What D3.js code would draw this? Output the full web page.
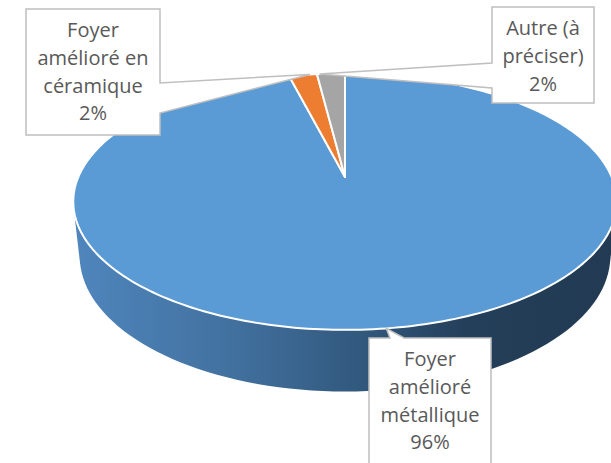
<!DOCTYPE html>
<html>
<head>
<meta charset="utf-8">
<script src="https://cdn.jsdelivr.net/npm/d3@7"></script>
<style>
  body { margin: 0; background: #fff; }
  svg { display: block; }
</style>
</head>
<body>
<svg id="chart"></svg>
<script>
// Data
const labelLines = [
  ["Foyer", "amélioré", "métallique"],
  ["Foyer", "amélioré en", "céramique"],
  ["Autre (à", "préciser)"]
];
const categories = labelLines.map(l => l.join(" "));
const values = [96, 2, 2];
const colors = ["#5b9bd5", "#ed7d31", "#a5a5a5"];

const width = 611;
const height = 463;

// 3D view settings (perspective tilt)
const cx = 345, cy = 177;
const tilt = 27.6 * Math.PI / 180;
const sinT = Math.sin(tilt), cosT = Math.cos(tilt);
const dist = 4.62;
const focal = 1232;
const thick = 0.232;

// angle: clockwise from 12 o'clock (back of the disk), r: radius 0..1, level: 0 top, -thick bottom
function project(angle, r, level) {
  const x = r * Math.sin(angle);
  const z = r * Math.cos(angle);
  const yc = level * cosT + z * sinT;
  const zc = -level * sinT + z * cosT + dist;
  return [cx + focal * x / zc, cy - focal * yc / zc];
}

const svg = d3.select("#chart").attr("width", width).attr("height", height);

const defs = svg.append("defs");
const sideGrad = defs.append("linearGradient")
  .attr("id", "side-gradient")
  .attr("gradientUnits", "userSpaceOnUse")
  .attr("x1", 73).attr("x2", 617).attr("y1", 0).attr("y2", 0);
[[0, "#4f86bd"], [0.3, "#41709e"], [0.55, "#30567a"], [0.72, "#243f5a"], [1, "#223a52"]]
  .forEach(([o, c]) => sideGrad.append("stop").attr("offset", o).attr("stop-color", c));

const pie = d3.pie().sort(null).value(d => d);
const arcs = pie(values);
const total = d3.sum(values);

// Side wall: hull of top and bottom rims
const rimPts = [];
d3.range(0, 360, 2).forEach(a => {
  const rad = a * Math.PI / 180;
  rimPts.push(project(rad, 1, 0));
  rimPts.push(project(rad, 1, -thick));
});
svg.append("path")
  .attr("d", "M" + d3.polygonHull(rimPts).join("L") + "Z")
  .attr("fill", "url(#side-gradient)");

// Top face slices
const line = d3.line();
arcs.forEach((d, i) => {
  const steps = Math.max(4, Math.ceil((d.endAngle - d.startAngle) / 0.02));
  const pts = [project(0, 0, 0)];
  for (let k = 0; k <= steps; k++) {
    const a = d.startAngle + (d.endAngle - d.startAngle) * k / steps;
    pts.push(project(a, 1, 0));
  }
  svg.append("path")
    .attr("d", line(pts) + "Z")
    .attr("fill", colors[i])
    .attr("stroke", "#fff")
    .attr("stroke-width", 2)
    .attr("stroke-linejoin", "round");
});

// Data label callouts
const labelLayout = [
  { x: 369, y: 338, w: 122, h: 140, side: "top", b0: 21, b1: 35, tip: arcs[0].startAngle + (arcs[0].endAngle - arcs[0].startAngle) / 2 },
  { x: 26, y: 9, w: 134, h: 126, side: "right", b0: 74, b1: 104, tip: 351 * Math.PI / 180 },
  { x: 492, y: 7, w: 102, h: 96, side: "left", b0: 56, b1: 81, tip: 353.5 * Math.PI / 180 }
];

labelLayout.forEach((b, i) => {
  const t = project(b.tip, 1, 0);
  let pts;
  if (b.side === "top") {
    pts = [[b.x, b.y], [b.x + b.b0, b.y], t, [b.x + b.b1, b.y], [b.x + b.w, b.y],
           [b.x + b.w, b.y + b.h], [b.x, b.y + b.h]];
  } else if (b.side === "right") {
    pts = [[b.x, b.y], [b.x + b.w, b.y], [b.x + b.w, b.y + b.b0], t, [b.x + b.w, b.y + b.b1],
           [b.x + b.w, b.y + b.h], [b.x, b.y + b.h]];
  } else {
    pts = [[b.x, b.y], [b.x + b.w, b.y], [b.x + b.w, b.y + b.h], [b.x, b.y + b.h],
           [b.x, b.y + b.b1], t, [b.x, b.y + b.b0]];
  }
  svg.append("path")
    .attr("d", line(pts) + "Z")
    .attr("fill", "#fff")
    .attr("stroke", "#bfbfbf")
    .attr("stroke-width", 1.5);

  const lines = labelLines[i].concat([Math.round(values[i] / total * 100) + "%"]);
  const text = svg.append("text")
    .attr("text-anchor", "middle")
    .attr("font-family", "'Open Sans', sans-serif")
    .attr("font-size", 20)
    .attr("fill", "#595959");
  lines.forEach((s, k) => {
    text.append("tspan")
      .attr("x", b.x + b.w / 2)
      .attr("y", b.y + 28 + k * 27.8)
      .text(s);
  });
});
</script>
</body>
</html>
